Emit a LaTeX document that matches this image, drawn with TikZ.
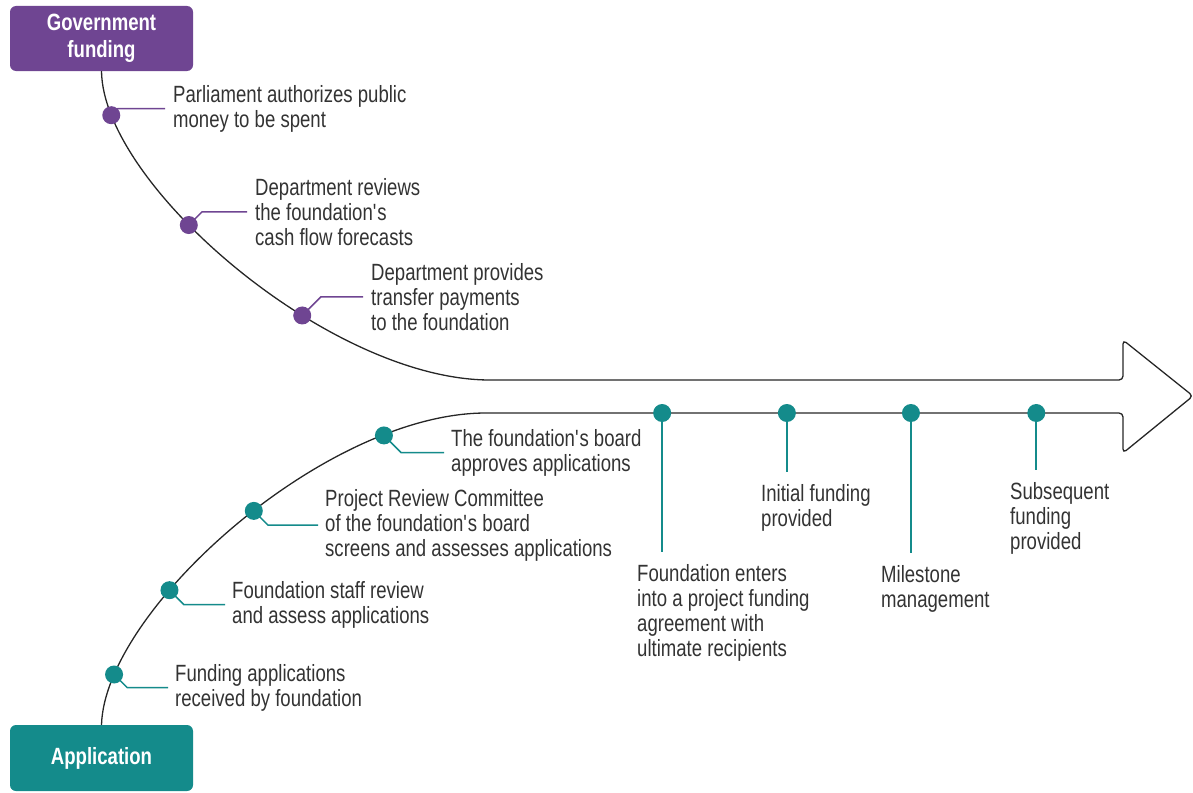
\documentclass[tikz,border=0pt]{standalone}
\usepackage{fontspec}
\setmainfont{Liberation Sans}[FakeStretch=0.79]
\usepackage{tikz}
\usetikzlibrary{positioning, calc}

\definecolor{govpurple}{HTML}{6F4592}
\definecolor{appteal}{HTML}{148B8B}
\definecolor{textgrey}{HTML}{333333}

\begin{document}
\begin{tikzpicture}[x=1pt, y=-1pt,
    stage/.style={rounded corners=6pt, minimum width=183pt, text=white, align=center,
        font=\bfseries\fontsize{23.5}{27}\selectfont},
    note/.style={anchor=north west, inner sep=0pt, align=left, text=textgrey,
        font=\fontsize{23.5}{25}\selectfont},
    gdot/.style={circle, fill=govpurple, minimum size=18pt, inner sep=0pt},
    adot/.style={circle, fill=appteal, minimum size=18pt, inner sep=0pt},
    gline/.style={draw=govpurple, line width=1.5pt},
    aline/.style={draw=appteal, line width=1.8pt},
    flow/.style={draw=black!85, line width=1.3pt}]

   \useasboundingbox (0,0) rectangle (1193,792);

   % The two starting boxes
   \node[stage, fill=govpurple, minimum height=65pt] (gov) at (101.5,38.5) {Government\\funding};
   \node[stage, fill=appteal, minimum height=66pt] (app) at (101.5,758) {Application};

   % Outline of the big arrow, with points for the steps on it
   \draw[flow] (gov.south) .. controls (103,185) and (330,380) .. (490,380)
        coordinate[pos=0.12] (g1) coordinate[pos=0.39] (g2) coordinate[pos=0.635] (g3)
     [rounded corners=4pt] -- (1123,380) -- (1123,340) -- (1193,396) -- (1123,453) -- (1123,413)
     -- (490,413)
        coordinate[pos=0.728] (m1) coordinate[pos=0.531] (m2)
        coordinate[pos=0.335] (m3) coordinate[pos=0.137] (m4)
     [sharp corners] .. controls (325,413) and (105,610) .. (app.north)
        coordinate[pos=0.205] (a4) coordinate[pos=0.46] (a3)
        coordinate[pos=0.66] (a2) coordinate[pos=0.865] (a1);

   % Government funding steps
   \node[note] (tg1) at (173,85) {Parliament authorizes public\\money to be spent};
   \node[note] (tg2) at (255,178) {Department reviews\\the foundation\textquotesingle s\\cash flow forecasts};
   \node[note] (tg3) at (371,263) {Department provides\\transfer payments\\to the foundation};

   % Application steps
   \node[note] (ta1) at (175,664) {Funding applications\\received by foundation};
   \node[note] (ta2) at (232,581) {Foundation staff review\\and assess applications};
   \node[note] (ta3) at (325,489) {Project Review Committee\\of the foundation\textquotesingle s board\\screens and assesses applications};
   \node[note] (ta4) at (451,429) {The foundation\textquotesingle s board\\approves applications};

   % Steps along the shaft
   \node[note] (tm1) at (637,564) {Foundation enters\\into a project funding\\agreement with\\ultimate recipients};
   \node[note] (tm2) at (761,484) {Initial funding\\provided};
   \node[note] (tm3) at (881,565) {Milestone\\management};
   \node[note] (tm4) at (1010,482) {Subsequent\\funding\\provided};

   % Leaders
   \foreach \i in {1,2,3}
     \draw[gline] let \p1=(g\i), \p2=(tg\i.west) in
       (g\i) -- ({\x1+abs(\y2-\y1)},\y2) -- ([xshift=-8pt]tg\i.west);
   \foreach \i in {1,2,3,4}
     \draw[aline, line width=1.5pt] let \p1=(a\i), \p2=(ta\i.west) in
       (a\i) -- ({\x1+abs(\y2-\y1)},\y2) -- ([xshift=-7pt]ta\i.west);
   \foreach \i in {1,2,3,4}
     \draw[aline, shorten >=12pt] (m\i) -- (m\i |- tm\i.north);

   % Dots
   \foreach \i in {1,2,3}
     \node[gdot] (g\i-dot) at (g\i) {};
   \foreach \i in {1,2,3,4} {
     \node[adot] (a\i-dot) at (a\i) {};
     \node[adot] (m\i-dot) at (m\i) {};
   }
\end{tikzpicture}
\end{document}
